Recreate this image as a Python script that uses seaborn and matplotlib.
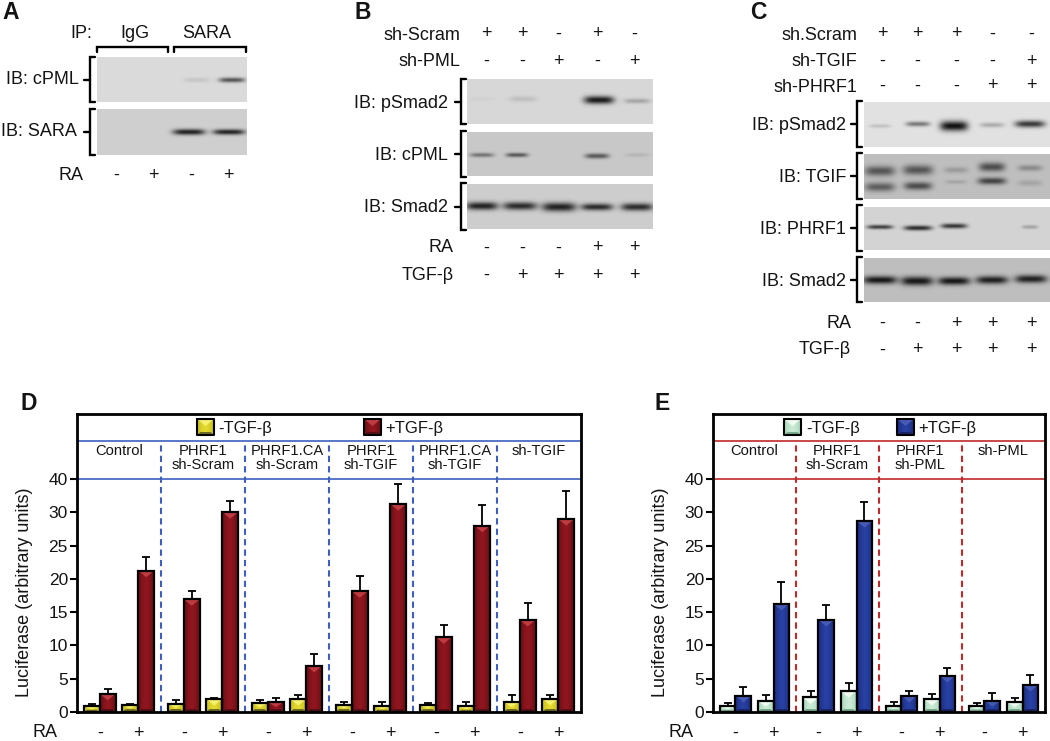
import numpy as np
import pandas as pd
import seaborn as sns
import matplotlib
matplotlib.use("Agg")
import matplotlib.pyplot as plt

W, H = 1050, 741

# bar chart values
d_groups = ["Control", "PHRF1\nsh-Scram", "PHRF1.CA\nsh-Scram", "PHRF1\nsh-TGIF", "PHRF1.CA\nsh-TGIF", "sh-TGIF"]
d_minus = [0.85, 1.1, 1.25, 1.95, 1.4, 1.95, 1.1, 0.85, 1.1, 0.85, 1.5, 2.0]
d_minus_err = [0.4, 0.15, 0.5, 0.1, 0.35, 0.55, 0.35, 0.6, 0.25, 0.6, 1.1, 0.5]
d_plus = [2.75, 21.25, 16.95, 30.05, 1.5, 6.95, 18.15, 31.25, 11.25, 28.0, 13.85, 29.0]
d_plus_err = [0.75, 2.0, 1.2, 1.6, 0.65, 1.75, 2.35, 3.0, 1.75, 3.05, 2.55, 4.2]

e_groups = ["Control", "PHRF1\nsh-Scram", "PHRF1\nsh-PML", "sh-PML"]
e_minus = [0.85, 1.65, 2.2, 3.15, 0.95, 1.95, 0.95, 1.5]
e_minus_err = [0.55, 0.95, 0.95, 1.15, 0.55, 0.7, 0.45, 0.65]
e_plus = [2.45, 16.25, 13.85, 28.7, 2.45, 5.45, 1.65, 4.1]
e_plus_err = [1.3, 3.25, 2.15, 2.8, 0.75, 1.2, 1.25, 1.4]

ra_signs = ["-", "+"]
y_tick_pos = [0, 5, 10, 15, 20, 25, 30, 35]
y_tick_labels = ["0", "5", "10", "15", "20", "25", "30", "40"]

# blot bands: centre x, centre y, half width, half height, darkness
a_cpml = [(197, 80, 13, 2.5, 0.1), (232, 80, 13, 2.5, 0.65)]
a_sara = [(189, 132, 16, 3, 0.9), (229, 132, 16, 2.8, 0.88)]
b_psmad = [(482, 99, 13, 2.5, 0.03), (523, 99, 14, 3, 0.12), (599, 100, 15, 4, 0.95), (637, 101, 13, 2.5, 0.25)]
b_cpml = [(482, 155, 12, 2.2, 0.45), (517, 155, 11, 2.2, 0.6), (597, 156, 12, 2.6, 0.6), (637, 155, 12, 2, 0.1)]
b_smad = [(482, 206, 16, 4, 0.9), (520, 206, 17, 4, 0.85), (559, 207, 17, 4.5, 0.9), (597, 207, 16, 3.5, 0.85), (637, 207, 16, 3.8, 0.85)]
c_psmad = [(880, 126, 11, 2, 0.15), (918, 124, 12, 2.5, 0.5), (954, 126, 14, 5, 1.0), (992, 125, 12, 2.5, 0.25), (1030, 124, 15, 3.5, 0.8)]
c_tgif = [(880, 171, 15, 5, 0.6), (918, 170, 15, 5, 0.6), (956, 170, 12, 3, 0.2), (992, 167, 13, 4.5, 0.65), (1030, 168, 12, 3, 0.3),
          (880, 187, 15, 4.5, 0.55), (918, 186, 14, 4, 0.65), (956, 182, 11, 2, 0.15), (992, 181, 14, 3.5, 0.7), (1030, 183, 12, 3, 0.15)]
c_phrf = [(880, 227, 13, 2.2, 0.75), (918, 228, 14, 2.5, 0.85), (954, 226, 13, 2.5, 0.8), (1030, 227, 8, 2, 0.25)]
c_smad = [(880, 280, 17, 4, 0.95), (917, 281, 16, 4.5, 0.95), (954, 281, 16, 4, 0.95), (992, 280, 16, 4, 0.9), (1031, 279, 16, 4, 0.9)]

# side, centre, top, bottom of the bevelled bars
yellow = [(200, 190, 30), (228, 218, 50), (245, 240, 110), (110, 105, 35)]
red = [(105, 15, 20), (145, 22, 32), (190, 60, 65), (85, 15, 20)]
green = [(165, 215, 185), (205, 235, 215), (240, 250, 240), (120, 170, 140)]
blue = [(30, 45, 125), (40, 65, 165), (70, 90, 180), (25, 35, 100)]

sns.set_theme(style="white")
plt.rcParams["font.family"] = ["Liberation Sans", "DejaVu Sans"]
INK = "#141414"
TXT = 13


def rgb(c):
    return tuple(v / 255 for v in c)


def bevel(ax, x0, x1, y0, y1, cols, tri, strip, z):
    # sideways gradient, a light triangle on top and a dark strip at the base
    t = np.abs(np.linspace(-1, 1, 24))[:, None] ** 1.5
    side = np.array(cols[0], float)
    mid = np.array(cols[1], float)
    img = (mid * (1 - t) + side * t)[None, :, :].astype(np.uint8)
    ax.imshow(img, extent=[x0, x1, min(y0, y1), max(y0, y1)], aspect="auto", zorder=z, interpolation="bilinear")
    xc = (x0 + x1) / 2
    d = (x1 - x0) * 0.2
    s = 1 if y1 > y0 else -1
    ax.fill([x0, x1, xc], [y1, y1, y1 - s * tri], color=rgb(cols[2]), lw=0, zorder=z + 0.1)
    ax.fill([x0, x1, x1 - d, x0 + d], [y0, y0, y0 + s * strip, y0 + s * strip], color=rgb(cols[3]), lw=0, zorder=z + 0.1)


def bar_panel(box, groups, minus, minus_err, plus, plus_err, cols_minus, cols_plus, line_col):
    left, right = box
    ax = fig.add_axes([left / W, (H - 712) / H, (right - left) / W, 298 / H])
    ax.patch.set_alpha(0)
    xpos = []
    for g in range(len(groups)):
        xpos += [g * 2.18, g * 2.18 + 1]
    df = pd.DataFrame({"x": xpos * 2, "val": minus + plus,
                       "TGF": ["-TGF-β"] * len(minus) + ["+TGF-β"] * len(plus)})
    pal = {"-TGF-β": rgb(cols_minus[1]), "+TGF-β": rgb(cols_plus[1])}
    sns.barplot(data=df, x="x", y="val", hue="TGF", hue_order=["-TGF-β", "+TGF-β"], palette=pal,
                native_scale=True, width=0.83, errorbar=None, edgecolor="black", linewidth=1.6,
                legend=False, ax=ax)
    for cont, cols, errs in zip(ax.containers, [cols_minus, cols_plus], [minus_err, plus_err]):
        for bar, err in zip(cont, errs):
            x0, h = bar.get_x(), bar.get_height()
            x1 = x0 + bar.get_width()
            bevel(ax, x0, x1, 0, h, cols, min(1.0, h / 2), min(0.45, h / 2.5), 2)
            bar.set_facecolor("none")
            bar.set_zorder(3)
            ax.errorbar((x0 + x1) / 2, h, yerr=[[0], [err]], color="black", lw=1.3, capsize=3,
                        capthick=1.3, zorder=1)
    x_left = -0.59
    x_right = len(groups) * 2.18 - 0.59
    for g in range(1, len(groups)):
        x = g * 2.18 - 0.59
        ax.plot([x, x], [0, 40.7], color=line_col, lw=1.5, dashes=(3, 2), zorder=0.5)
    ax.axhline(35, color=line_col, lw=1.2, zorder=0.5)
    ax.axhline(40.7, color=line_col, lw=1.2, zorder=0.5)
    for g, name in enumerate(groups):
        ax.text(g * 2.18 + 0.5, 40.25, name, ha="center", va="top", fontsize=10.6, color=INK, linespacing=1.0)
    ax.set_xlim(x_left, x_right)
    ax.set_ylim(0, 44.76)
    ax.set_xticks(xpos)
    ax.set_xticklabels(ra_signs * len(groups), fontsize=TXT, color=INK)
    ax.set_yticks(y_tick_pos)
    ax.set_yticklabels(y_tick_labels, fontsize=12.5, color=INK)
    ax.tick_params(axis="x", length=0, pad=9)
    ax.tick_params(axis="y", length=5, width=1.5, color="black", pad=1.5, left=True)
    ax.yaxis.get_major_ticks()[-1].tick1line.set_color(line_col)
    ax.set_xlabel("")
    ax.set_ylabel("Luciferase (arbitrary units)", fontsize=TXT, color=INK)
    ax.yaxis.set_label_coords(-44 / (right - left), (712 - 592) / 298)
    for sp in ax.spines.values():
        sp.set_visible(True)
        sp.set_color("black")
        sp.set_linewidth(2)
    return ax


def blot(x0, x1, y0, y1, bg, bands):
    xs, ys = np.meshgrid(np.arange(x0, x1) + 0.5, np.arange(y0, y1) + 0.5)
    img = np.full(xs.shape, float(bg))
    for cx, cy, hw, hh, dark in bands:
        img *= 1 - 0.92 * dark * np.exp(-((xs - cx) / hw) ** 4 - ((ys - cy) / hh) ** 2)
    page.imshow(img, extent=[x0, x1, y1, y0], cmap="gray", vmin=0, vmax=255, aspect="auto",
                interpolation="bilinear", zorder=1)


def side_bracket(x, y0, y1):
    # opening bracket with a tick towards the label
    page.plot([x + 5, x, x, x + 5], [y0, y0, y1, y1], color="black", lw=1.7, solid_joinstyle="miter", zorder=2)
    page.plot([x - 6, x], [(y0 + y1) / 2, (y0 + y1) / 2], color="black", lw=1.7, zorder=2)


def top_bracket(x0, x1, y):
    page.plot([x0, x0, x1, x1], [y + 5, y, y, y + 5], color="black", lw=1.7, solid_joinstyle="miter", zorder=2)


def label(x, y, s, ha="right", size=TXT, **kw):
    page.text(x, y, s, ha=ha, va="center", fontsize=size, color=INK, **kw)


def sign_row(xs, y, signs):
    for x, s in zip(xs, signs):
        label(x, y, s, ha="center")


fig = plt.figure(figsize=(W / 100, H / 100), dpi=100, facecolor="white")
page = fig.add_axes([0, 0, 1, 1])
page.axis("off")

# panel letters
for x, y, s in [(2, 12.5, "A"), (354, 12.5, "B"), (750, 12.5, "C"), (20, 404, "D"), (655, 404, "E")]:
    label(x, y, s, ha="left", size=16.5, fontweight="bold")

# A
blot(97, 247, 57, 102, 218, a_cpml)
blot(97, 247, 109, 155, 207, a_sara)
label(92, 34, "IP:")
label(135, 34, "IgG", ha="center")
label(207, 34, "SARA", ha="center")
top_bracket(97, 168, 47)
top_bracket(174, 246, 47)
side_bracket(90, 57, 102)
side_bracket(90, 109, 155)
label(79, 80, "IB: cPML")
label(77, 132, "IB: SARA")
label(84, 175, "RA")
sign_row([116, 153, 191, 228], 175, ["-", "+", "-", "+"])

# B
b_x = [486, 522, 558, 597, 634]
blot(467, 653, 79, 124, 215, b_psmad)
blot(467, 653, 132, 176, 200, b_cpml)
blot(467, 653, 184, 229, 205, b_smad)
label(460, 35, "sh-Scram")
label(460, 62, "sh-PML")
sign_row(b_x, 34, ["+", "+", "-", "+", "-"])
sign_row(b_x, 61, ["-", "-", "+", "-", "+"])
for name, y, y0, y1 in [("IB: pSmad2", 103, 79, 124), ("IB: cPML", 155, 131, 177), ("IB: Smad2", 208, 183, 230)]:
    label(448, y, name)
    side_bracket(461, y0, y1)
label(454, 248, "RA")
label(454, 275, "TGF-β")
sign_row(b_x, 248, ["-", "-", "-", "+", "+"])
sign_row(b_x, 275, ["-", "+", "+", "+", "+"])

# C
c_x = [882, 917, 956, 992, 1031]
blot(864, 1050, 102, 147, 225, c_psmad)
blot(864, 1050, 154, 199, 190, c_tgif)
blot(864, 1050, 207, 250, 212, c_phrf)
blot(864, 1050, 258, 302, 190, c_smad)
label(857, 35, "sh.Scram")
label(857, 61, "sh-TGIF")
label(857, 87, "sh-PHRF1")
sign_row(c_x, 34, ["+", "+", "+", "-", "-"])
sign_row(c_x, 61, ["-", "-", "-", "-", "+"])
sign_row(c_x, 86, ["-", "-", "-", "+", "+"])
for name, y, y0, y1 in [("IB: pSmad2", 125, 101, 147), ("IB: TGIF", 177, 153, 199), ("IB: PHRF1", 229, 205, 251), ("IB: Smad2", 281, 257, 302)]:
    label(846, y, name)
    side_bracket(857, y0, y1)
label(851, 323, "RA")
label(851, 350, "TGF-β")
sign_row(c_x, 323, ["-", "-", "+", "+", "+"])
sign_row(c_x, 350, ["-", "+", "+", "+", "+"])

# D and E
bar_panel((77, 581), d_groups, d_minus, d_minus_err, d_plus, d_plus_err, yellow, red, "#3f5fbf")
bar_panel((713, 1045), e_groups, e_minus, e_minus_err, e_plus, e_plus_err, green, blue, "#bf2a2a")
label(57, 732.5, "RA")
label(693, 732.5, "RA")

# legend swatches
for x, cols, tx, s in [(197, yellow, 218, "-TGF-β"), (364, red, 385, "+TGF-β"), (784, green, 806, "-TGF-β"), (897, blue, 918, "+TGF-β")]:
    bevel(page, x, x + 17, 435, 419, cols, 7, 3, 1)
    page.plot([x, x + 17, x + 17, x, x], [419, 419, 435, 435, 419], color="black", lw=1.5, zorder=2)
    label(tx, 428, s, ha="left", size=12)

page.set_xlim(0, W)
page.set_ylim(H, 0)

plt.savefig("out.png", dpi=100)
